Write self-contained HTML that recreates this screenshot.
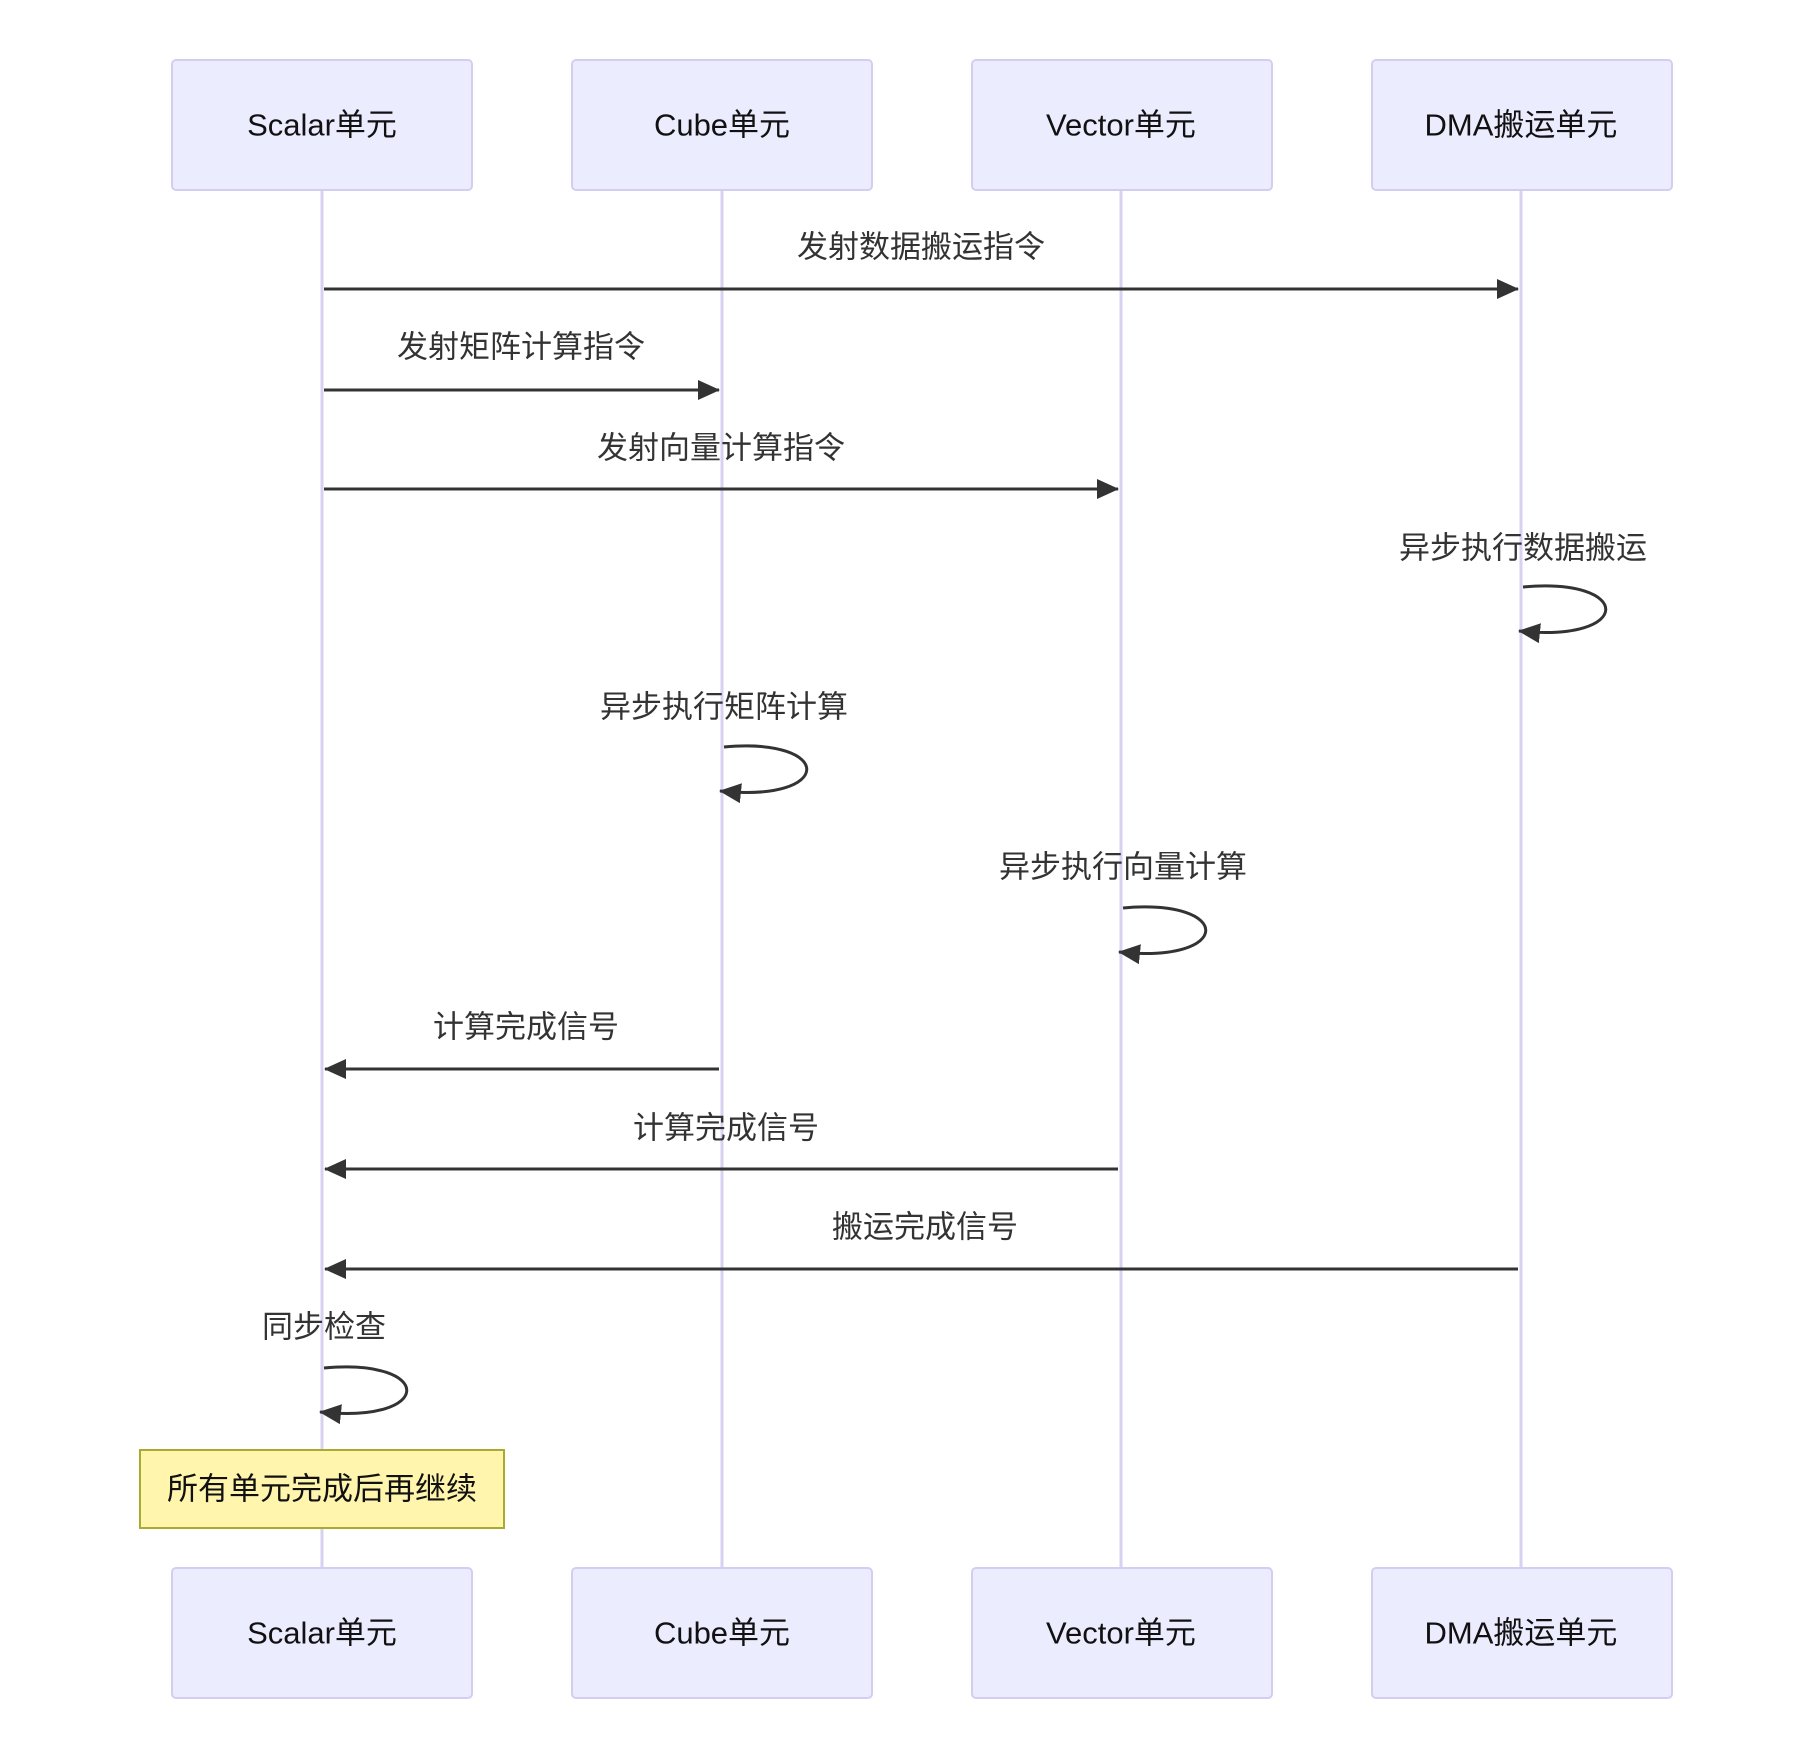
<!DOCTYPE html>
<html><head><meta charset="utf-8"><style>
html,body{margin:0;padding:0;background:#fff;}
svg{display:block;}
text{font-family:"Liberation Sans","Noto Sans CJK SC",sans-serif;}
</style></head><body>
<svg width="1814" height="1760" viewBox="0 0 1814 1760" xmlns="http://www.w3.org/2000/svg">
<defs>
<marker id="a" markerWidth="12" markerHeight="12" refX="11" refY="6" orient="auto" markerUnits="userSpaceOnUse" viewBox="0 0 12 12">
<path d="M0,0 L12,6 L0,12 z" fill="#333"/>
</marker>
<marker id="b" markerWidth="22" markerHeight="20" refX="21" refY="10" orient="auto" markerUnits="userSpaceOnUse" viewBox="0 0 22 20">
<path d="M0,0 L22,10 L0,20 z" fill="#333"/>
</marker>
</defs>
<g stroke="#d9d1f2" stroke-width="3">
<line x1="322" y1="190" x2="322" y2="1568"/>
<line x1="722" y1="190" x2="722" y2="1568"/>
<line x1="1121" y1="190" x2="1121" y2="1568"/>
<line x1="1521" y1="190" x2="1521" y2="1568"/>
</g>
<g fill="#ececff" stroke="#d4cdf2" stroke-width="2">
<rect x="172" y="60" width="300" height="130" rx="4"/>
<rect x="572" y="60" width="300" height="130" rx="4"/>
<rect x="972" y="60" width="300" height="130" rx="4"/>
<rect x="1372" y="60" width="300" height="130" rx="4"/>
<rect x="172" y="1568" width="300" height="130" rx="4"/>
<rect x="572" y="1568" width="300" height="130" rx="4"/>
<rect x="972" y="1568" width="300" height="130" rx="4"/>
<rect x="1372" y="1568" width="300" height="130" rx="4"/>
</g>
<g font-size="31" fill="#111" text-anchor="middle" dominant-baseline="central">
<text x="322" y="125">Scalar单元</text>
<text x="722" y="125">Cube单元</text>
<text x="1121" y="125">Vector单元</text>
<text x="1521" y="125">DMA搬运单元</text>
<text x="322" y="1633">Scalar单元</text>
<text x="722" y="1633">Cube单元</text>
<text x="1121" y="1633">Vector单元</text>
<text x="1521" y="1633">DMA搬运单元</text>
</g>
<g stroke="#333" stroke-width="3" fill="none">
<line x1="324" y1="289" x2="1518" y2="289" marker-end="url(#b)"/>
<line x1="324" y1="390" x2="719" y2="390" marker-end="url(#b)"/>
<line x1="324" y1="489" x2="1118" y2="489" marker-end="url(#b)"/>
<line x1="719" y1="1069" x2="325" y2="1069" marker-end="url(#b)"/>
<line x1="1118" y1="1169" x2="325" y2="1169" marker-end="url(#b)"/>
<line x1="1518" y1="1269" x2="325" y2="1269" marker-end="url(#b)"/>
<path d="M1523,587 C1634,577 1634,643 1519,631" marker-end="url(#b)"/>
<path d="M724,747 C835,737 835,803 720,791" marker-end="url(#b)"/>
<path d="M1123,908 C1234,898 1234,964 1119,952" marker-end="url(#b)"/>
<path d="M324,1368 C435,1358 435,1424 320,1412" marker-end="url(#b)"/>
</g>
<g font-size="31" fill="#333" text-anchor="middle" dominant-baseline="central">
<text x="921" y="247">发射数据搬运指令</text>
<text x="521" y="347">发射矩阵计算指令</text>
<text x="721" y="448">发射向量计算指令</text>
<text x="1523" y="548">异步执行数据搬运</text>
<text x="724" y="707">异步执行矩阵计算</text>
<text x="1123" y="867">异步执行向量计算</text>
<text x="526" y="1027">计算完成信号</text>
<text x="726" y="1128">计算完成信号</text>
<text x="925" y="1227">搬运完成信号</text>
<text x="324" y="1327">同步检查</text>
</g>
<rect x="140" y="1450" width="364" height="78" fill="#fff5ad" stroke="#aaaa33" stroke-width="2"/>
<text x="322" y="1489" font-size="31" fill="#111" text-anchor="middle" dominant-baseline="central">所有单元完成后再继续</text>
</svg>
</body></html>
